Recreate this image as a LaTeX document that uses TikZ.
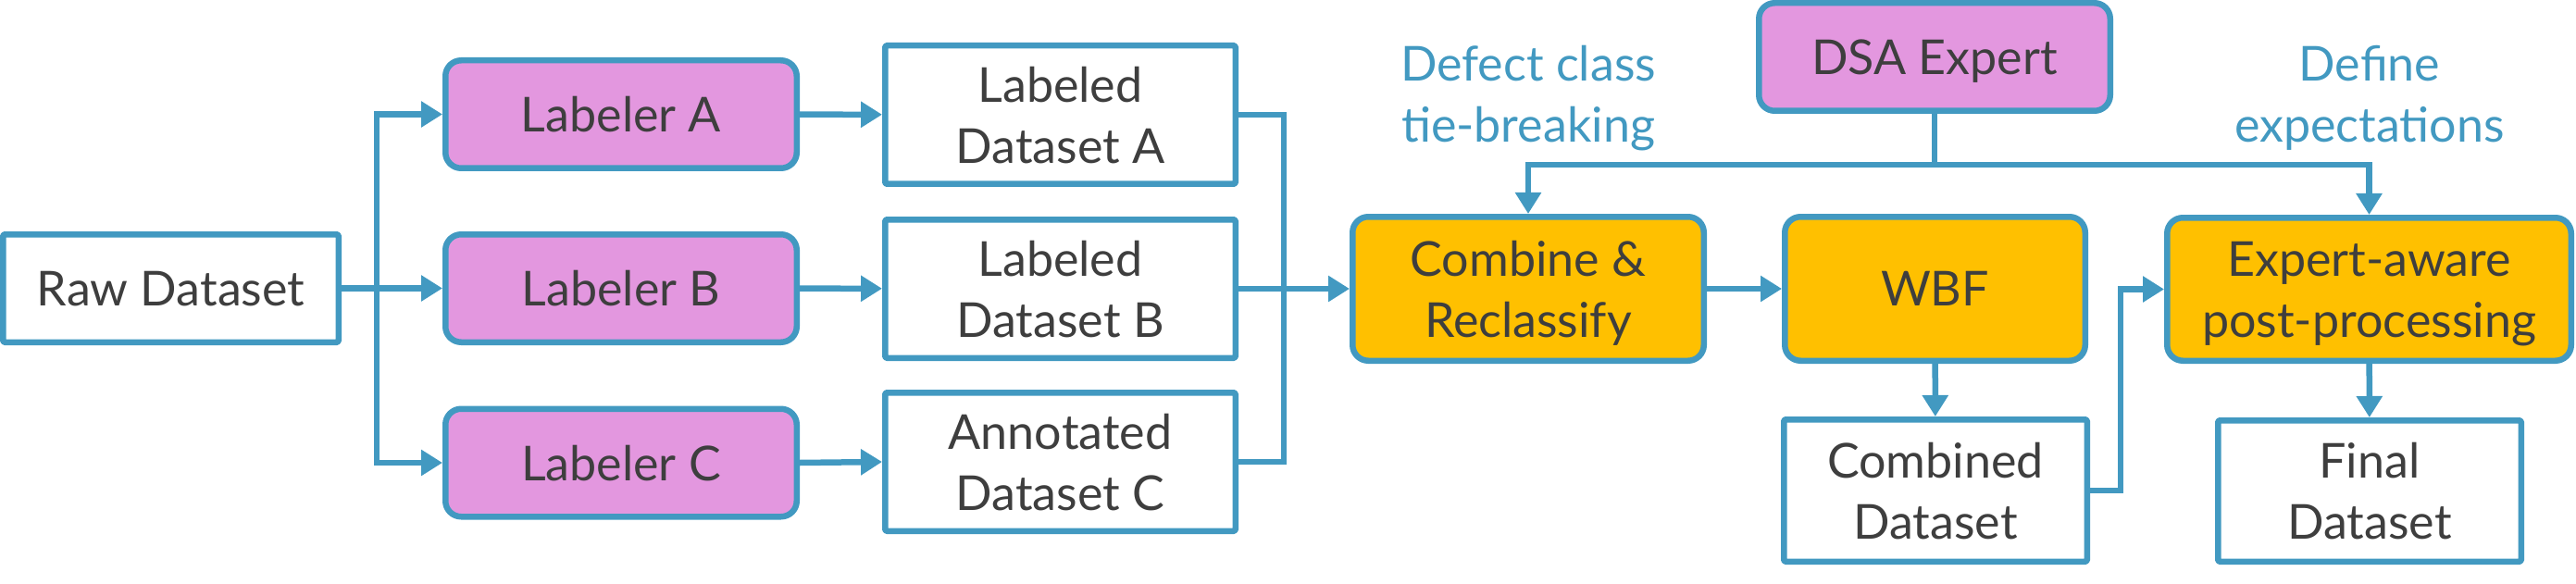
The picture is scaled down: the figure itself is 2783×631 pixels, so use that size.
\documentclass[tikz,border=0pt]{standalone}
\usepackage{fontspec}
\setmainfont{Lato}
\usetikzlibrary{arrows.meta}
\definecolor{lblue}{RGB}{66,153,193}
\definecolor{lpink}{RGB}{227,151,223}
\definecolor{lorange}{RGB}{255,192,0}
\definecolor{ltext}{RGB}{62,62,62}
\tikzset{
  box/.style={draw=lblue, line width=6.5pt, text=ltext, align=center, inner sep=0pt, text depth=0pt, line join=round},
  pinkbox/.style={box, fill=lpink, rounded corners=17pt},
  orbox/.style={box, fill=lorange, rounded corners=17pt},
  whitebox/.style={box, fill=white, rounded corners=1.5pt},
  wh/.style 2 args={minimum width=#1pt, minimum height=#2pt},
  conn/.style={draw=lblue, line width=6.5pt},
  arr/.style={conn, -{Triangle[length=23pt,width=27pt]}},
  lbl/.style={text=lblue, align=center, inner sep=0pt, text depth=0pt},
}
\begin{document}
\begin{tikzpicture}[x=1pt,y=-1pt,font=\fontsize{52}{66}\selectfont]
\useasboundingbox (0,0) rectangle (2783,631);
% nodes
\node[whitebox, wh={362.5}{116.5}] (raw) at (184.5,311.5) {Raw Dataset};
\node[pinkbox, wh={379.5}{116.5}] (la) at (671,123.5) {Labeler A};
\node[pinkbox, wh={379.5}{116.5}] (lb) at (671,311.5) {Labeler B};
\node[pinkbox, wh={379.5}{116.5}] (lc) at (671,500) {Labeler C};
\node[whitebox, wh={378.5}{149.5}] (lda) at (1145.5,124) {Labeled\\Dataset A};
\node[whitebox, wh={378.5}{149.5}] (ldb) at (1145.5,312) {Labeled\\Dataset B};
\node[whitebox, wh={378.5}{149.5}] (adc) at (1145.5,499) {Annotated\\Dataset C};
\node[orbox, wh={379.5}{155.5}] (comb) at (1651,312) {Combine \&\\Reclassify};
\node[orbox, wh={324.5}{155.5}] (wbf) at (2090.5,312) {WBF};
\node[orbox, wh={436.5}{154.5}] (exp) at (2559.5,312.5) {Expert-aware\\post-processing};
\node[pinkbox, wh={379.5}{116.5}] (dsa) at (2090,61.5) {DSA Expert};
\node[whitebox, wh={327.5}{153.5}] (cds) at (2091,530) {Combined\\Dataset};
\node[whitebox, wh={327.5}{152.5}] (fin) at (2560,530.5) {Final\\Dataset};
\node[lbl] (l1) at (1651,101) {Defect class\\tie-breaking};
\node[lbl] (l2) at (2560,101) {Define\\expectations};
% junctions
\coordinate (j1) at (407,311.5);
\coordinate (j2) at (1387,312);
\coordinate (j3) at (2291,420);
\coordinate (j4) at (2090,178);
% connectors
\draw[arr] (raw) -- (lb);
\draw[arr] (j1) |- (la);
\draw[arr] (j1) |- (lc);
\draw[arr] (la) -- (lda);
\draw[arr] (lb) -- (ldb);
\draw[arr] (lc.east) -- (adc.west);
\draw[conn] (lda.east) -| (j2) |- (adc.east);
\draw[arr] (ldb) -- (comb);
\draw[arr] (comb) -- (wbf);
\draw[arr] (wbf) -- (cds);
\draw[arr] (cds.east) -| (j3) |- (exp.west);
\draw[arr] (exp) -- (fin);
\draw[conn] (dsa) -- (j4);
\draw[arr] (j4) -| (comb.north);
\draw[arr] (j4) -| (exp.north);
\end{tikzpicture}
\end{document}
